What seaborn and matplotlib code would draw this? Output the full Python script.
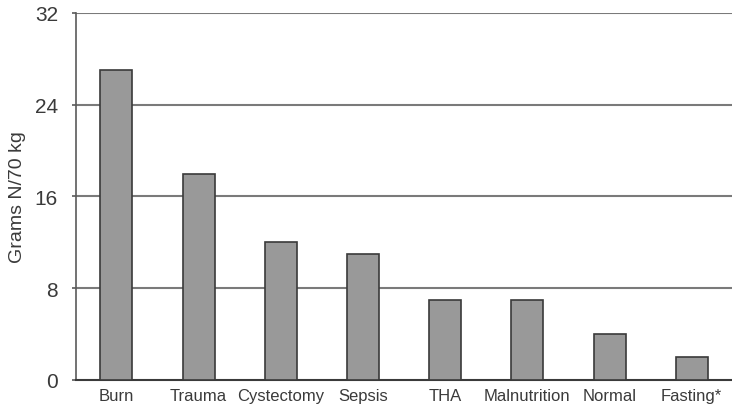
import pandas as pd
import seaborn as sns
import matplotlib.pyplot as plt

categories = ['Burn', 'Trauma', 'Cystectomy', 'Sepsis', 'THA', 'Malnutrition', 'Normal', 'Fasting*']
grams_n = [27, 18, 12, 11, 7, 7, 4, 2]

df = pd.DataFrame({'Condition': categories, 'Grams': grams_n})

sns.set_theme(style="white")
plt.rcParams['font.family'] = ['Liberation Sans', 'DejaVu Sans']

fig = plt.figure(figsize=(7.32, 4.06), dpi=100)
ax = fig.add_axes([0.104, 0.0616, 0.896, 0.904])

sns.barplot(
    x='Condition',
    y='Grams',
    data=df,
    color='#999999',
    edgecolor='#3a3a3a',
    linewidth=1.2,
    width=0.39,
    saturation=1,
    ax=ax,
    zorder=3
)

ax.set_ylim(0, 32)
ax.set_xlim(-0.49, 7.49)
ax.set_yticks([0, 8, 16, 24, 32])
for y in [8, 16, 24, 32]:
    ax.axhline(y, color='#7a7a7a', linewidth=1.5, zorder=1)

for side in ['top', 'right']:
    ax.spines[side].set_visible(False)
ax.spines['left'].set_color('#5a5a5a')
ax.spines['left'].set_linewidth(1.2)
ax.spines['bottom'].set_color('#3a3a3a')
ax.spines['bottom'].set_linewidth(1.5)

ax.tick_params(axis='y', left=True, length=3, width=1.2, color='#5a5a5a',
               labelsize=15, labelcolor='#3a3a3a', pad=10)
ax.tick_params(axis='x', bottom=False, length=0, labelsize=12, labelcolor='#3a3a3a', pad=6)

ax.set_xlabel('')
ax.set_ylabel('Grams N/70 kg', fontsize=14, color='#3a3a3a', labelpad=6)

plt.savefig('out.png', dpi=100)
